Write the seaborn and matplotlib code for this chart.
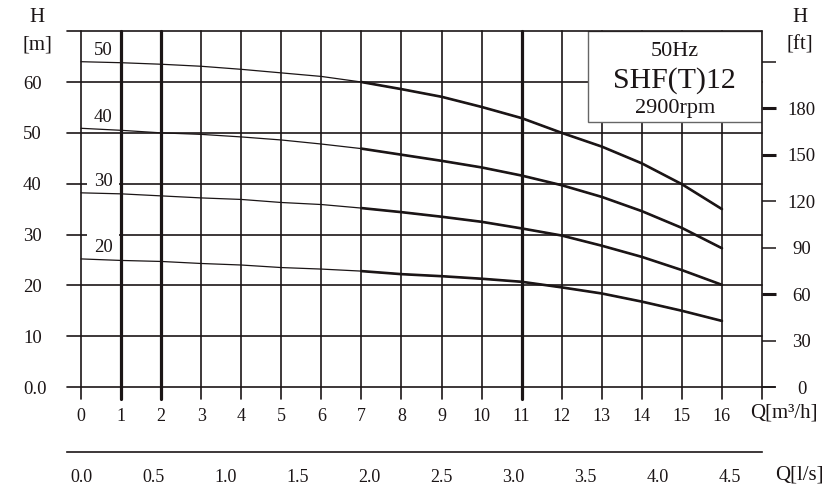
import numpy as np
import pandas as pd
import matplotlib
matplotlib.use("Agg")
import matplotlib.pyplot as plt
import seaborn as sns
from matplotlib.patches import Rectangle

# ---------------- data ----------------
flow_m3h = list(range(17))
head_50 = [64.0, 63.8, 63.5, 63.1, 62.5, 61.8, 61.1, 60.0, 58.6, 57.1, 55.1, 52.9, 50.0, 47.3, 44.0, 39.9, 35.0]
head_40 = [50.9, 50.5, 50.0, 49.7, 49.2, 48.6, 47.8, 46.9, 45.7, 44.5, 43.2, 41.6, 39.7, 37.4, 34.6, 31.3, 27.3]
head_30 = [38.2, 38.0, 37.6, 37.2, 36.9, 36.3, 35.9, 35.2, 34.4, 33.5, 32.5, 31.2, 29.8, 27.8, 25.6, 23.0, 20.1]
head_20 = [25.2, 24.9, 24.7, 24.3, 24.0, 23.5, 23.2, 22.8, 22.2, 21.8, 21.3, 20.7, 19.6, 18.4, 16.8, 15.0, 13.0]
curve_names = ["50", "40", "30", "20"]

m3h_ticks = list(range(17))
m_ticks = [0, 10, 20, 30, 40, 50, 60, 70]
m_tick_labels = ["0.0", "10", "20", "30", "40", "50", "60", ""]
ft_ticks = [0, 30, 60, 90, 120, 150, 180, 210]
ft_tick_labels = ["0", "30", "60", "90", "120", "150", "180", ""]
ft_bold_ticks = [60, 150, 180]
ls_ticks = [0.0, 0.5, 1.0, 1.5, 2.0, 2.5, 3.0, 3.5, 4.0, 4.5]
ls_tick_labels = ["0.0", "0.5", "1.0", "1.5", "2.0", "2.5", "3.0", "3.5", "4.0", "4.5"]
bold_flow_lines = [1, 2, 11]
box_lines = ["50Hz", "SHF(T)12", "2900rpm"]

# ---------------- style ----------------
sns.set_style("white")
plt.rcParams["font.family"] = ["Liberation Serif", "DejaVu Serif"]
INK = "#1b1516"
M_TO_FT = 3.28084
M3H_TO_LS = 1 / 3.6

fig = plt.figure(figsize=(8.25, 4.88), dpi=100)
ax = fig.add_axes([67 / 825, 88.8 / 488, 695 / 825, 368 / 488])
x_lo, x_hi = -0.35, 17.0
y_lo, y_hi = -2.4, 70.0
ax.set_xlim(x_lo, x_hi)
ax.set_ylim(y_lo, y_hi)
for s in ax.spines.values():
    s.set_visible(False)

# grid (horizontal)
for h in m_ticks:
    if h == 0:
        ax.plot([x_lo, 17.32], [h, h], color=INK, lw=1.2, zorder=1, clip_on=False)
    elif h == y_hi:
        ax.plot([x_lo, x_hi], [h, h], color=INK, lw=1.2, zorder=3, clip_on=False)
    else:
        ax.plot([x_lo, x_hi], [h, h], color=INK, lw=1.2, zorder=1, clip_on=False)
# grid (vertical)
for q in m3h_ticks:
    ax.plot([q, q], [y_lo, y_hi], color=INK,
            lw=2.3 if q in bold_flow_lines else 1.2, zorder=1.5, clip_on=False)
ax.plot([x_hi, x_hi], [y_lo, y_hi], color=INK, lw=1.2, zorder=3, clip_on=False)

# curves
df = pd.DataFrame({
    "Q": flow_m3h * 4,
    "H": head_50 + head_40 + head_30 + head_20,
    "curve": sum([[n] * len(flow_m3h) for n in curve_names], []),
})
sns.lineplot(data=df, x="Q", y="H", units="curve", estimator=None, color=INK,
             lw=0.9, ax=ax, legend=False, zorder=3)
sns.lineplot(data=df[df["Q"] >= 7], x="Q", y="H", units="curve", estimator=None,
             color=INK, lw=1.9, ax=ax, legend=False, zorder=3)
ax.set_xlabel("")
ax.set_ylabel("")

for name, series in zip(curve_names, [head_50, head_40, head_30, head_20]):
    ax.text(0.55, series[0] + 2.2, name, fontsize=13.5, color=INK, ha="center",
            va="center", zorder=1.4,
            bbox=dict(boxstyle="square,pad=0.35", fc="white", ec="none"))

# info box
ax.add_patch(Rectangle((12.65, 52.2), x_hi - 12.65, y_hi - 52.2, fc="white",
                       ec="#666666", lw=1.0, zorder=2.2))
cx = (12.65 + x_hi) / 2
ax.text(cx, 65.1, box_lines[0], fontsize=16, ha="center", va="baseline", color=INK, zorder=2.3)
ax.text(cx, 58.8, box_lines[1], fontsize=21.5, ha="center", va="baseline", color=INK, zorder=2.3)
ax.text(cx, 53.9, box_lines[2], fontsize=16, ha="center", va="baseline", color=INK, zorder=2.3)

# left axis ticks
ax.set_yticks(m_ticks)
ax.set_yticklabels(m_tick_labels)
ax.tick_params(axis="y", length=0, pad=31.7, labelsize=13.5, labelcolor=INK)
for lab in ax.get_yticklabels():
    lab.set_ha("left")
# bottom m3/h ticks
ax.set_xticks(m3h_ticks)
ax.set_xticklabels([str(v) for v in m3h_ticks])
ax.tick_params(axis="x", length=0, pad=6, labelsize=13, labelcolor=INK)

# right axis in ft
axr = ax.twinx()
axr.set_ylim(y_lo * M_TO_FT, y_hi * M_TO_FT)
axr.set_yticks(ft_ticks)
axr.set_yticklabels(ft_tick_labels)
for s in axr.spines.values():
    s.set_visible(False)
axr.tick_params(axis="y", direction="out", length=10, width=1.1, color=INK,
                pad=18.7, labelsize=13.5, labelcolor=INK)
for lab in axr.get_yticklabels():
    lab.set_ha("center")
for v, t in zip(ft_ticks, axr.yaxis.get_major_ticks()):
    if v in ft_bold_ticks:
        t.tick2line.set_markeredgewidth(2.2)

# secondary flow axis in l/s
axs = fig.add_axes([67 / 825, 36 / 488, 695 / 825, 0.0001])
axs.set_xlim(x_lo * M3H_TO_LS, x_hi * M3H_TO_LS)
axs.set_yticks([])
for k in ["top", "left", "right"]:
    axs.spines[k].set_visible(False)
axs.spines["bottom"].set_color(INK)
axs.spines["bottom"].set_linewidth(1.2)
axs.set_xticks(ls_ticks)
axs.set_xticklabels(ls_tick_labels)
axs.tick_params(axis="x", direction="out", length=8, width=1.2, color=INK,
                pad=4, labelsize=13, labelcolor=INK)
axs.patch.set_alpha(0)

# axis titles
fig.text(37 / 825, 1 - 18 / 488, "H", fontsize=15, ha="center", va="center", color=INK)
fig.text(37 / 825, 1 - 45 / 488, "[m]", fontsize=15, ha="center", va="center", color=INK)
fig.text(800 / 825, 1 - 18 / 488, "H", fontsize=15, ha="center", va="center", color=INK)
fig.text(800 / 825, 1 - 45 / 488, "[ft]", fontsize=15, ha="center", va="center", color=INK)
fig.text(784 / 825, 1 - 413 / 488, "Q[m³/h]", fontsize=15, ha="center", va="center", color=INK)
fig.text(799 / 825, 1 - 475 / 488, "Q[l/s]", fontsize=15, ha="center", va="center", color=INK)

fig.savefig("out.png", dpi=100)
